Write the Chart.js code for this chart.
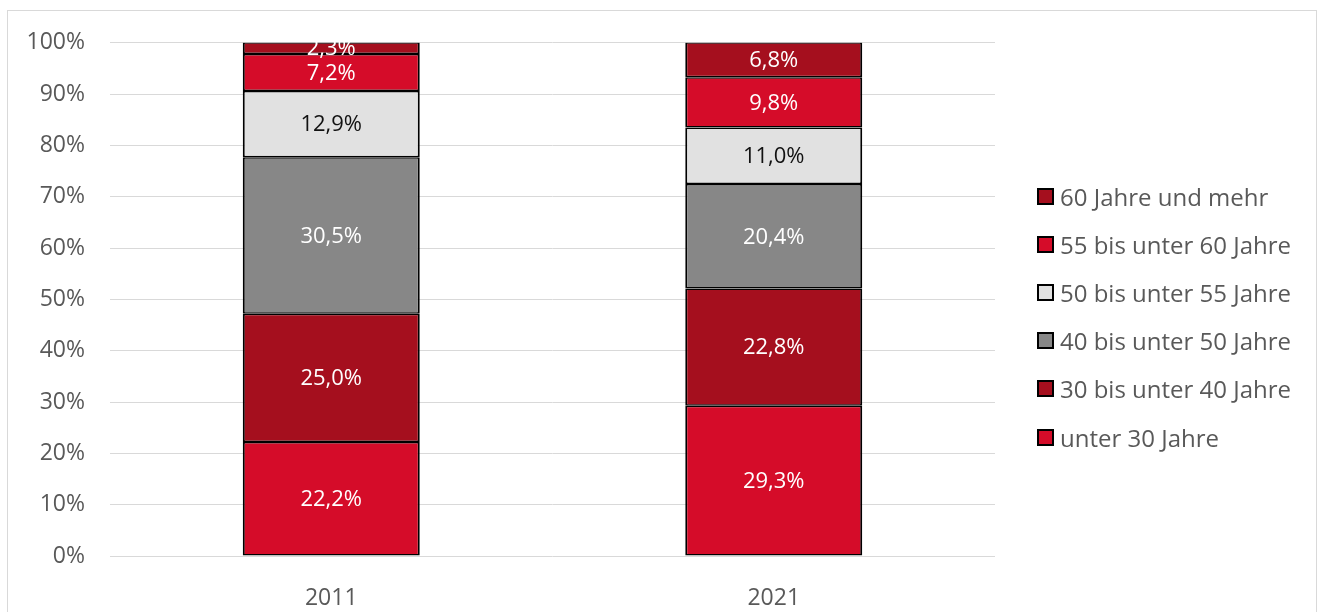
<!DOCTYPE html>
<html>
<head>
<meta charset="utf-8">
<script src="https://cdn.jsdelivr.net/npm/chart.js@4"></script>
<style>
  body { margin: 0; background: #fff; font-family: "Open Sans", sans-serif; overflow: hidden; }
  #frame {
    position: absolute; left: 7px; top: 10px; width: 1308px; height: 601px;
    border: 1px solid #d9d9d9; border-bottom: none;
  }
  #frame canvas { position: absolute; left: 0; top: -7px; }
  #legend { position: absolute; left: 1029px; top: 161px; list-style: none; margin: 0; padding: 0; }
  #legend li { height: 48.2px; display: flex; align-items: center; font-size: 24px; color: #595959; }
  #legend span.box {
    display: inline-block; width: 13px; height: 13px; border: 2px solid #000; margin-right: 6px;
  }
</style>
</head>
<body>
<div id="frame">
  <canvas id="chart" width="1308" height="608"></canvas>
  <ul id="legend"></ul>
</div>
<script>
// Chart data
const years = ["2011", "2021"];
const groups = ["unter 30 Jahre", "30 bis unter 40 Jahre", "40 bis unter 50 Jahre",
                "50 bis unter 55 Jahre", "55 bis unter 60 Jahre", "60 Jahre und mehr"];
const under30 = [22.2, 29.3];
const from30to40 = [25.0, 22.8];
const from40to50 = [30.5, 20.4];
const from50to55 = [12.9, 11.0];
const from55to60 = [7.2, 9.8];
const over60 = [2.3, 6.8];
const yTicks = [0, 10, 20, 30, 40, 50, 60, 70, 80, 90, 100];

const colors = ["#d50c29", "#a50f1e", "#878787", "#e1e1e1", "#d50c29", "#a50f1e"];
const labelColors = ["#fff", "#fff", "#fff", "#111", "#fff", "#fff"];
const series = [under30, from30to40, from40to50, from50to55, from55to60, over60];

const datasets = series.map((values, i) => ({
  label: groups[i],
  data: values,
  backgroundColor: colors[i],
  borderColor: "#000",
  borderWidth: { top: 1.5, bottom: 1.5, left: 2, right: 2 },
  borderSkipped: false,
  barPercentage: 0.4,
  categoryPercentage: 1
}));

// Draw the values in the middle of each segment
const valueLabels = {
  id: "valueLabels",
  afterDatasetsDraw(chart) {
    const ctx = chart.ctx;
    ctx.save();
    ctx.font = "22px 'Open Sans'";
    ctx.textAlign = "center";
    ctx.textBaseline = "middle";
    chart.data.datasets.forEach((ds, i) => {
      chart.getDatasetMeta(i).data.forEach((bar, j) => {
        const v = ds.data[j];
        ctx.fillStyle = labelColors[i];
        ctx.fillText(v.toFixed(1).replace(".", ",") + "%", bar.x, (bar.y + bar.base) / 2 + 1);
      });
    });
    ctx.restore();
  }
};

new Chart(document.getElementById("chart"), {
  type: "bar",
  data: { labels: years, datasets: datasets },
  plugins: [valueLabels],
  options: {
    responsive: false,
    animation: false,
    layout: { padding: { top: 24, right: 321, left: 0, bottom: 0 } },
    plugins: { legend: { display: false }, tooltip: { enabled: false } },
    scales: {
      x: {
        stacked: true,
        grid: { display: false },
        border: { display: false },
        ticks: { color: "#595959", font: { family: "Open Sans", size: 23 }, padding: 21 },
        afterFit(scale) { scale.height = 56; }
      },
      y: {
        stacked: true,
        min: 0,
        max: 100,
        afterBuildTicks(scale) { scale.ticks = yTicks.map(v => ({ value: v })); },
        grid: { color: "#d9d9d9", lineWidth: 1, drawTicks: false },
        border: { display: false },
        ticks: {
          color: "#595959",
          font: { family: "Open Sans", size: 23 },
          padding: 25,
          callback: v => v + "%"
        },
        afterFit(scale) { scale.width = 102; }
      }
    }
  }
});

// Legend, listed from the top segment down
const legend = document.getElementById("legend");
for (let i = groups.length - 1; i >= 0; i--) {
  const li = document.createElement("li");
  li.innerHTML = '<span class="box" style="background:' + colors[i] + '"></span>' + groups[i];
  legend.appendChild(li);
}
</script>
</body>
</html>
